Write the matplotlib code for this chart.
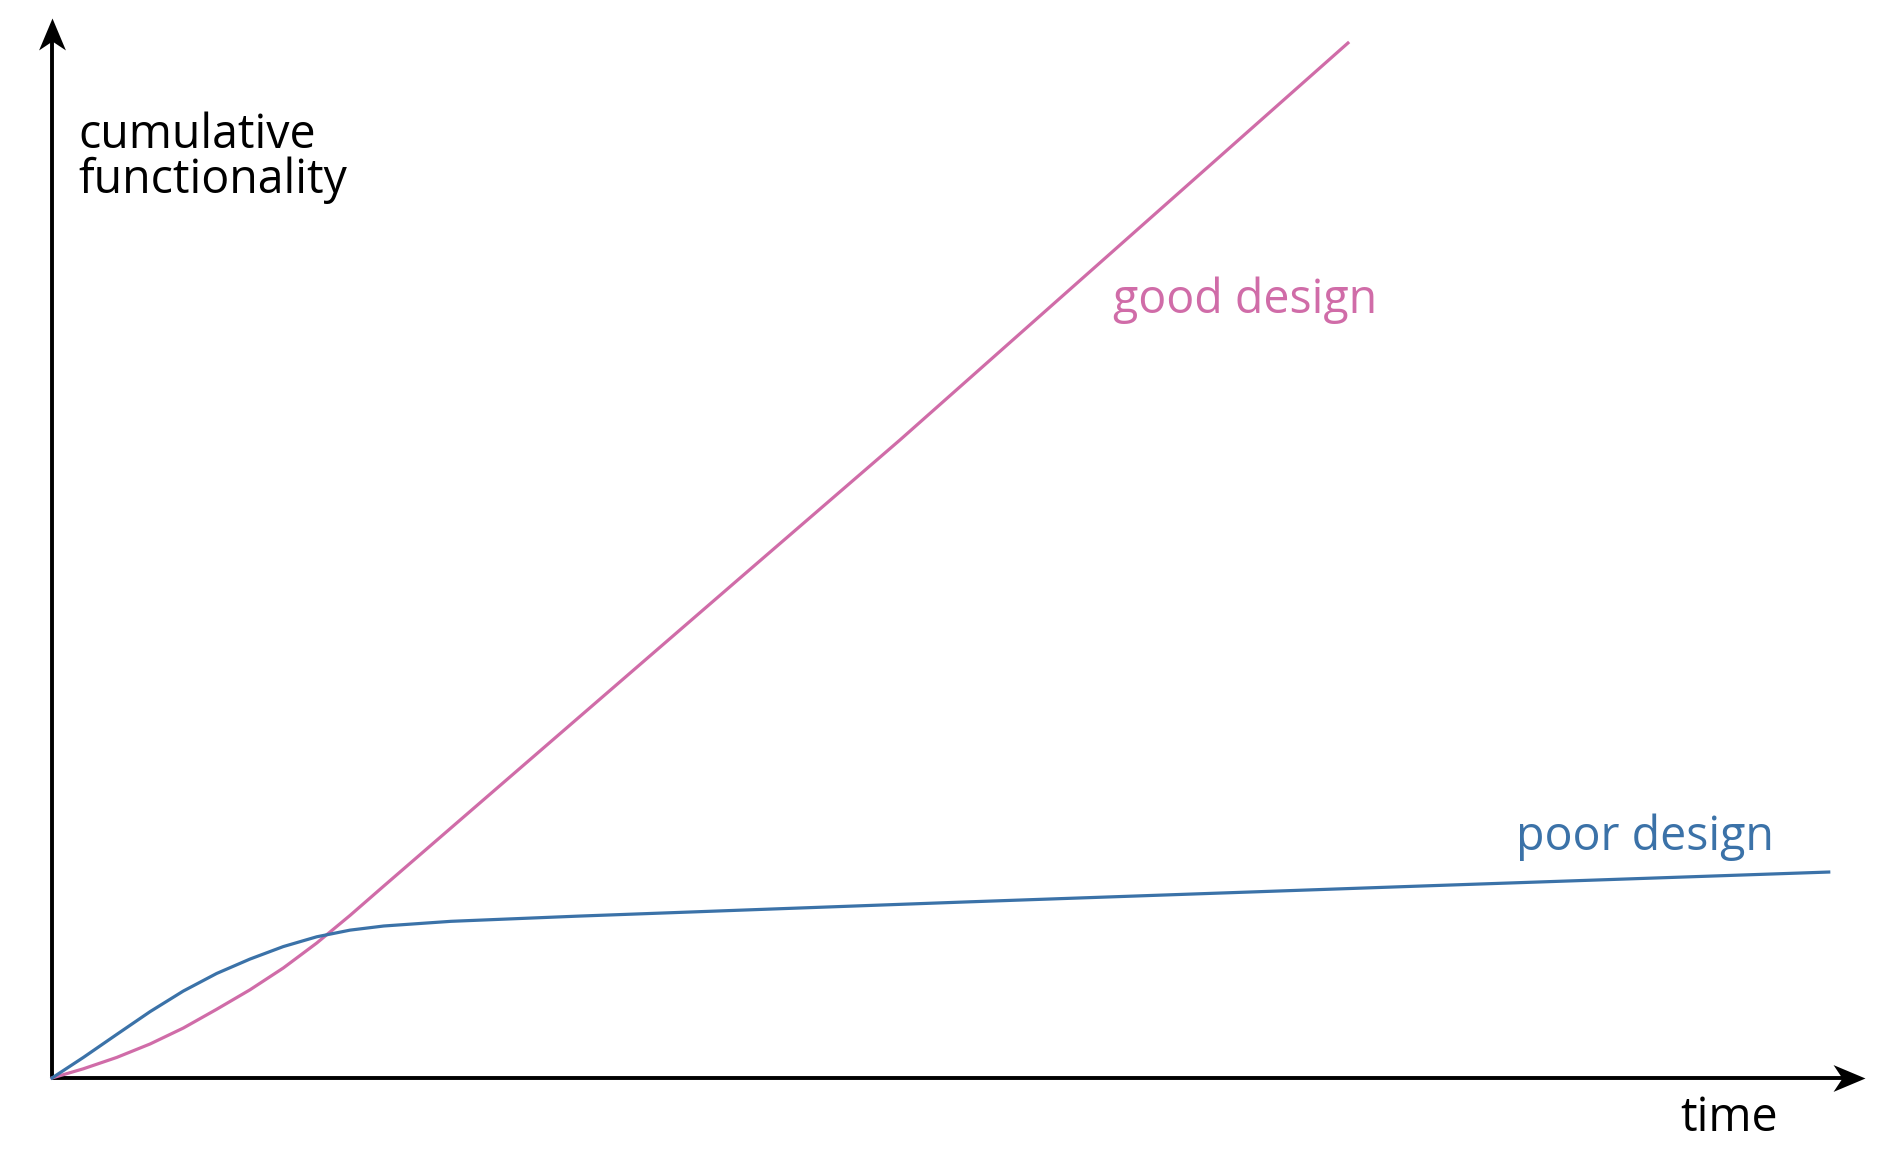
import matplotlib
matplotlib.use('Agg')
import matplotlib.pyplot as plt
from matplotlib.path import Path

plt.rcParams['font.family'] = ['Open Sans', 'DejaVu Sans']

# values (time, cumulative functionality), axes 0..10
good_t = [0.0, 0.173, 0.357, 0.541, 0.724, 0.908, 1.092, 1.276, 1.46, 1.644,
          1.83, 3.795, 4.677, 7.148]
good_y = [0.0, 0.087, 0.194, 0.321, 0.471, 0.648, 0.832, 1.038, 1.273, 1.534,
          1.811, 4.717, 6.019, 9.764]

poor_t = [0.0, 0.173, 0.357, 0.541, 0.724, 0.908, 1.092, 1.276, 1.46, 1.644,
          1.83, 2.2, 2.9, 4.0, 5.06, 7.5, 9.8]
poor_y = [0.0, 0.194, 0.411, 0.626, 0.820, 0.986, 1.122, 1.240, 1.332, 1.395,
          1.434, 1.478, 1.527, 1.596, 1.662, 1.808, 1.943]

PINK = '#d06ca8'
BLUE = '#3b72a8'

W, H = 1900, 1158
fig = plt.figure(figsize=(W / 100, H / 100), dpi=100)
fig.patch.set_facecolor('white')

# axes: origin at pixel (52, 1078), arrow tips at x=1865 and y=18
x0, y0, x1, y1 = 52, 1078, 1865, 18
ax = fig.add_axes([x0 / W, (H - y0) / H, (x1 - x0) / W, (y0 - y1) / H])
ax.set_xlim(0, 10)
ax.set_ylim(0, 10)
ax.axis('off')

# axis lines with concave (stealth-like) arrow heads
ax.plot([0, 9.9], [0, 0], color='black', lw=2.8, solid_capstyle='butt', clip_on=False)
ax.plot([0, 0], [0, 9.83], color='black', lw=2.8, solid_capstyle='butt', clip_on=False)
head_right = Path([(0, 0), (-1, 0.42), (-0.72, 0), (-1, -0.42), (0, 0)],
                  [Path.MOVETO, Path.LINETO, Path.LINETO, Path.LINETO, Path.CLOSEPOLY])
head_up = Path([(0, 0), (0.42, -1), (0, -0.72), (-0.42, -1), (0, 0)],
               [Path.MOVETO, Path.LINETO, Path.LINETO, Path.LINETO, Path.CLOSEPOLY])
ax.plot(10, 0, marker=head_right, markersize=46, color='black', mew=0, clip_on=False)
ax.plot(0, 10, marker=head_up, markersize=46, color='black', mew=0, clip_on=False)

ax.plot(good_t, good_y, color=PINK, lw=2.3, solid_joinstyle='round', clip_on=False)
ax.plot(poor_t, poor_y, color=BLUE, lw=2.3, solid_joinstyle='round', clip_on=False)


def ptext(px, py, s, color='black', size=33.5):
    fig.text(px / W, 1 - py / H, s, color=color, fontsize=size,
             ha='left', va='baseline')


ptext(78, 148, 'cumulative')
ptext(78, 193, 'functionality')
ptext(1113, 313, 'good design', color=PINK)
ptext(1516, 850, 'poor design', color=BLUE)
ptext(1680, 1131, 'time')

fig.savefig('out.png', dpi=100, facecolor='white')
plt.close(fig)
